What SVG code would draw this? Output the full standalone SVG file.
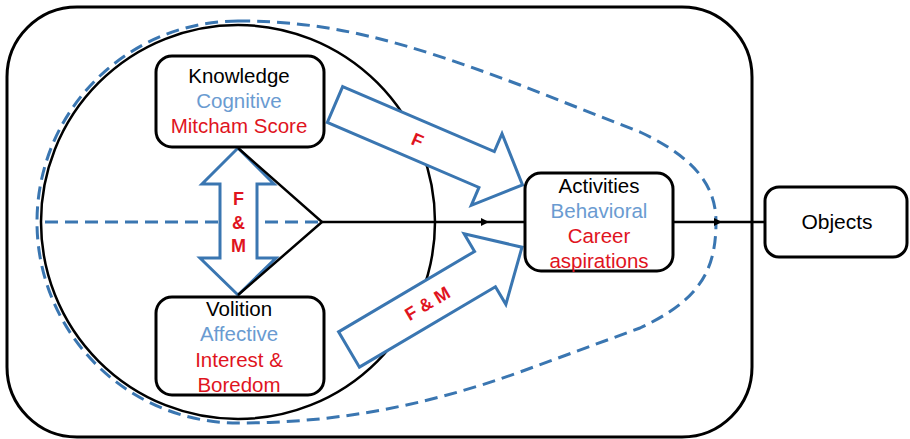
<svg xmlns="http://www.w3.org/2000/svg" width="910" height="439" viewBox="0 0 910 439">
<defs>
<style>
.frame{fill:none;stroke:#000;stroke-width:3}
.box{fill:#fff;stroke:#000;stroke-width:3}
.dash{fill:none;stroke:#3A76B1;stroke-width:3;stroke-dasharray:13 7}
.blk{fill:none;stroke:#000;stroke-width:2.5}
.barrow{fill:#fff;stroke:#3A76B1;stroke-width:3;stroke-linejoin:miter}
text{font-family:"Liberation Sans",Arial,sans-serif;text-anchor:middle}
.t{font-size:20.5px}
.k{fill:#000}
.c{fill:#6A9BD1}
.r{fill:#E0141E}
.lbl{font-size:18px;font-weight:bold;fill:#E0141E}
</style>
<marker id="ah" viewBox="0 0 10 10" refX="10" refY="5" markerWidth="10" markerHeight="8" markerUnits="userSpaceOnUse" orient="auto">
<path d="M0,0 L10,5 L0,10 z" fill="#000"/>
</marker>
</defs>
<rect x="0" y="0" width="910" height="439" fill="#fff"/>
<rect class="frame" x="7" y="7" width="745" height="430" rx="70" ry="70"/>
<circle class="blk" cx="238" cy="222" r="197"/>
<g id="dashes">
<path class="dash" d="M238,21 A201,201 0 0 0 238,423 C330,423 420,408 520,372 L640,328 C700,300 716,270 716,222 C716,190 700,160 640,132 L520,85 C400,40 330,21 238,21 Z"/>
<path class="dash" d="M45,222 L320,222"/>
</g>
<g id="connectors">
<path class="barrow" transform="translate(335,104.5) rotate(23.2)" d="M0,-19.5 L165,-19.5 L165,-39 L204,0 L165,39 L165,19.5 L0,19.5 Z"/>
<text class="lbl" transform="translate(335,104.5) rotate(23.2) translate(90,6.5)">F</text>
<path class="barrow" transform="translate(349,349.5) rotate(-30.6)" d="M0,-20.5 L158,-20.5 L158,-41 L201,0 L158,41 L158,20.5 L0,20.5 Z"/>
<text class="lbl" transform="translate(349,349.5) rotate(-30.6) translate(91,6.5)">F &amp; M</text>
<path class="barrow" d="M238,148 L274,184 L257,184 L257,258 L276,258 L238,295 L200,258 L220,258 L220,184 L202,184 Z"/>
<text class="lbl" x="238.5" y="205">F</text>
<text class="lbl" x="238.5" y="229">&amp;</text>
<text class="lbl" x="238.5" y="252">M</text>
<path class="blk" d="M238,148 L322,222 L238,295"/>
<path class="blk" d="M322,222 L489,222 L526,222" marker-mid="url(#ah)"/>
<path class="blk" d="M672,222 L722,222 L765,222" marker-mid="url(#ah)"/>
</g>
<g id="knowledge">
<rect class="box" x="156" y="56" width="168" height="91" rx="16"/>
<text class="t k" x="239" y="83">Knowledge</text>
<text class="t c" x="239" y="108">Cognitive</text>
<text class="t r" x="239" y="133">Mitcham Score</text>
</g>
<g id="volition">
<rect class="box" x="156" y="297" width="168" height="98" rx="16"/>
<text class="t k" x="239" y="316">Volition</text>
<text class="t c" x="239" y="341">Affective</text>
<text class="t r" x="239" y="367">Interest &amp;</text>
<text class="t r" x="239" y="392">Boredom</text>
</g>
<g id="activities">
<rect class="box" x="525" y="173" width="148" height="98" rx="16"/>
<text class="t k" x="599" y="193">Activities</text>
<text class="t c" x="599" y="218">Behavioral</text>
<text class="t r" x="599" y="243">Career</text>
<text class="t r" x="599" y="268">aspirations</text>
</g>
<g id="objects">
<rect class="box" x="765" y="187" width="142" height="70" rx="14"/>
<text class="t k" x="837" y="229" style="font-size:21px">Objects</text>
</g>
</svg>
